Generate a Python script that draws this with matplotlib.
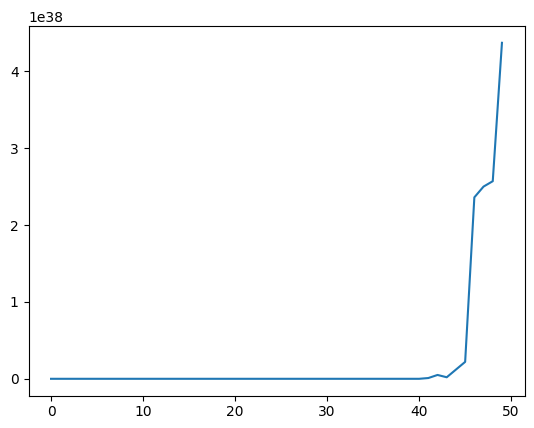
import matplotlib
matplotlib.use("Agg")
import matplotlib.pyplot as plt
import numpy as np

# values, in units of 1e38
x = np.arange(50)
tail = [0.0, 0.01, 0.05, 0.02, 0.12, 0.22, 2.36, 2.50, 2.57, 4.37]
y = np.array([0.0] * 40 + tail) * 1e38

fig = plt.figure(figsize=(5.34, 4.28), dpi=100)
ax = fig.add_axes([28.5 / 534, 32.4 / 428, 496 / 534, 369.6 / 428])
ax.plot(x, y)

fig.savefig("out.png", dpi=100)
